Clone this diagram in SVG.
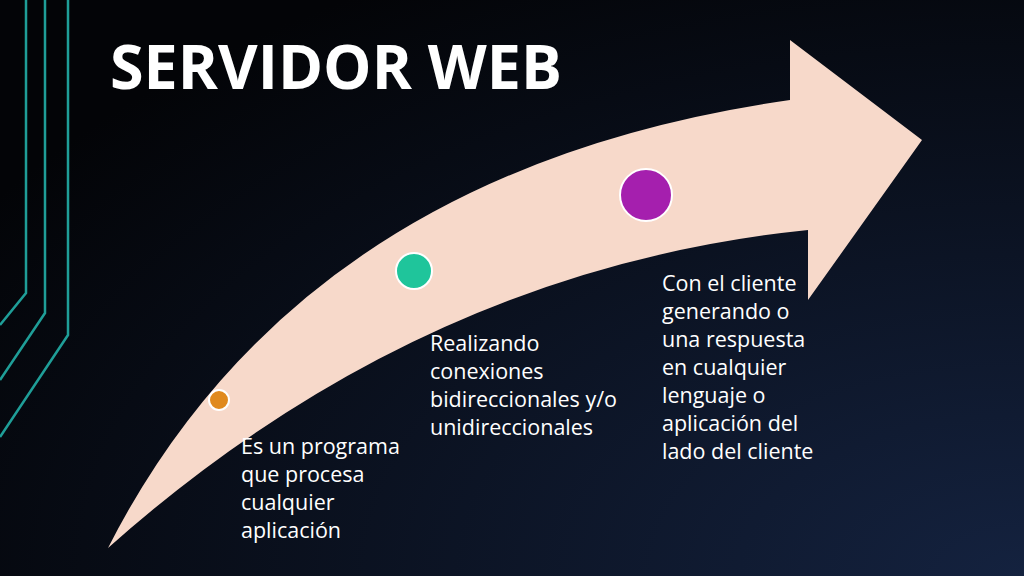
<svg xmlns="http://www.w3.org/2000/svg" width="1024" height="576" viewBox="0 0 1024 576">
<defs>
<radialGradient id="bg" cx="1" cy="1" r="1.2"><stop offset="0" stop-color="#14223f"/><stop offset="1" stop-color="#030407"/></radialGradient>
<style>.ln{fill:none;stroke:#1f9e98;stroke-width:2.5}.t{font-family:"Open Sans","Liberation Sans",sans-serif;font-size:21.5px;fill:#fff}</style>
</defs>
<rect width="1024" height="576" fill="url(#bg)"/>
<path class="ln" d="M26 0V293L0 325M45 0V313L0 380M68 0V335L0 437"/>
<text x="110" y="89" font-family="'Open Sans','Liberation Sans',sans-serif" font-weight="bold" font-size="60" fill="#fff" textLength="452" lengthAdjust="spacingAndGlyphs">SERVIDOR WEB</text>
<g id="arrow"><path d="M108 548Q300 170 790 100L790 40L922 140L808 300L808 230Q420 270 108 548Z" fill="#f7d9ca"/></g>
<g id="n1"><circle cx="219" cy="400" r="10" fill="#e08a1e" stroke="#fff" stroke-width="2"/>
<text class="t"><tspan x="241" y="454">Es un programa</tspan><tspan x="241" y="482">que procesa</tspan><tspan x="241" y="510">cualquier</tspan><tspan x="241" y="538">aplicación</tspan></text></g>
<g id="n2"><circle cx="414" cy="271" r="18" fill="#1fc59b" stroke="#fff" stroke-width="2"/>
<text class="t"><tspan x="430" y="351">Realizando</tspan><tspan x="430" y="379">conexiones</tspan><tspan x="430" y="407">bidireccionales y/o</tspan><tspan x="430" y="435">unidireccionales</tspan></text></g>
<g id="n3"><circle cx="646" cy="195" r="26" fill="#a51fae" stroke="#fff" stroke-width="2"/>
<text class="t"><tspan x="662" y="291">Con el cliente</tspan><tspan x="662" y="319">generando o</tspan><tspan x="662" y="347">una respuesta</tspan><tspan x="662" y="375">en cualquier</tspan><tspan x="662" y="403">lenguaje o</tspan><tspan x="662" y="431">aplicación del</tspan><tspan x="662" y="459">lado del cliente</tspan></text></g>
<g id="connectors"/>
</svg>
